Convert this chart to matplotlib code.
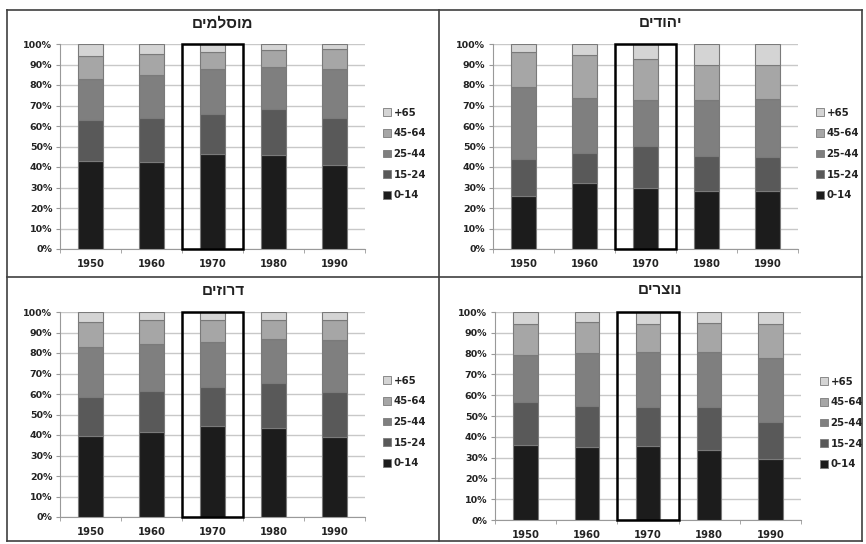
import numpy as np
import matplotlib
matplotlib.use("Agg")
import matplotlib.pyplot as plt
from matplotlib.patches import Rectangle, Patch
from matplotlib.lines import Line2D

plt.rcParams['font.family'] = ['DejaVu Sans']
plt.rcParams['font.weight'] = 'bold'

years = ['1950', '1960', '1970', '1980', '1990']
groups = ['0-14', '15-24', '25-44', '45-64', '+65']
colors = ['#1c1c1c', '#595959', '#7f7f7f', '#a6a6a6', '#d4d4d4']

# share of each age group (%), rows follow `groups`, columns follow `years`
muslims = [
    [43.0, 42.4, 46.5, 46.0, 41.0],
    [20.0, 21.6, 19.5, 22.5, 23.0],
    [20.0, 20.7, 21.6, 20.5, 24.0],
    [11.0, 10.4, 8.5, 8.2, 9.6],
    [6.0, 4.9, 3.9, 2.8, 2.4],
]
jews = [
    [26.0, 32.2, 29.8, 28.5, 28.1],
    [18.0, 14.6, 20.3, 16.7, 16.6],
    [35.0, 26.9, 22.7, 27.5, 28.6],
    [17.0, 21.1, 19.9, 17.2, 16.3],
    [4.0, 5.2, 7.3, 10.1, 10.4],
]
druze = [
    [39.3, 41.3, 44.2, 43.2, 39.2],
    [19.4, 20.2, 19.4, 22.1, 22.0],
    [24.3, 22.8, 22.0, 21.7, 25.3],
    [12.1, 11.6, 10.3, 9.3, 9.6],
    [4.9, 4.1, 4.1, 3.7, 3.9],
]
christians = [
    [35.9, 35.1, 35.4, 33.5, 29.1],
    [20.6, 19.8, 18.9, 20.6, 17.8],
    [22.9, 25.3, 26.4, 26.6, 31.2],
    [15.0, 14.8, 13.5, 14.0, 16.3],
    [5.6, 5.0, 5.8, 5.3, 5.6],
]

W, H = 866, 544
fig = plt.figure(figsize=(W / 100, H / 100), dpi=100)


def px_axes(x0, y0, x1, y1):
    return fig.add_axes([x0 / W, 1 - y1 / H, (x1 - x0) / W, (y1 - y0) / H])


panels = [
    # title, data, axes box (px), title pos, legend pos
    ("מוסלמים", muslims, (60, 44, 365, 249), (223, 23), (383, 154)),
    ("יהודים", jews, (493, 44, 798, 249), (660, 23), (816, 154)),
    ("דרוזים", druze, (60, 312, 365, 517), (223, 291), (383, 422)),
    ("נוצרים", christians, (495, 312, 801, 520), (660, 290), (820, 423)),
]

for title, data, box, tpos, lpos in panels:
    ax = px_axes(*box)
    x = np.arange(len(years))
    bottom = np.zeros(len(years))
    for vals, c in zip(data, colors):
        vals = np.array(vals) / 100
        ax.bar(x, vals, 0.4, bottom=bottom, color=c, edgecolor='#7a7a7a',
               linewidth=0.8, zorder=3)
        bottom += vals

    ax.set_xlim(-0.5, len(years) - 0.5)
    ax.set_ylim(0, 1)
    ax.set_yticks(np.arange(0, 1.01, 0.1))
    ax.set_yticklabels([f"{int(round(v * 100))}%" for v in np.arange(0, 1.01, 0.1)],
                       fontsize=6.8, fontweight='bold', color='#222222')
    ax.set_xticks(x)
    ax.set_xticklabels(years, fontsize=7.2, fontweight='bold', color='#222222')
    ax.set_xticks(np.arange(-0.5, len(years)), minor=True)
    ax.tick_params(axis='x', which='major', length=0, pad=7)
    ax.tick_params(axis='x', which='minor', length=3, color='#999999')
    ax.tick_params(axis='y', length=3, color='#999999', pad=2.5)
    ax.grid(axis='y', color='#c8c8c8', linewidth=1, zorder=0)
    ax.set_axisbelow(True)
    for s in ['top', 'right']:
        ax.spines[s].set_visible(False)
    for s in ['left', 'bottom']:
        ax.spines[s].set_color('#999999')
        ax.spines[s].set_linewidth(0.8)

    # highlight the 1970 column
    ax.add_patch(Rectangle((1.5, 0.002), 1, 0.996, fill=False, edgecolor='black',
                           linewidth=1.8, zorder=5, clip_on=False))

    # hebrew is drawn left to right, so reverse it for display
    fig.text(tpos[0] / W, 1 - tpos[1] / H, title[::-1], ha='center', va='center',
             fontsize=11, fontweight='bold', color='#222222',
             family=['Liberation Sans', 'DejaVu Sans'])

    handles = [Patch(facecolor=c, edgecolor='#7a7a7a', linewidth=0.6) for c in colors]
    ax.legend(handles[::-1], groups[::-1], loc='center left',
              bbox_to_anchor=(lpos[0] / W, 1 - lpos[1] / H),
              bbox_transform=fig.transFigure, frameon=False, fontsize=7.3,
              handlelength=0.8, handleheight=0.8, handletextpad=0.25,
              labelspacing=1.05, borderpad=0, borderaxespad=0,
              labelcolor='#222222')

# panel frame
lc = '#404040'
for xs, ys in [((7, 862), (10, 10)), ((7, 862), (541, 541)), ((7, 7), (10, 541)),
               ((862, 862), (10, 541)), ((439, 439), (10, 541)), ((7, 862), (277, 277))]:
    fig.add_artist(Line2D([v / W for v in xs], [1 - v / H for v in ys],
                          color=lc, linewidth=1.2))

fig.savefig("out.png", dpi=100)
